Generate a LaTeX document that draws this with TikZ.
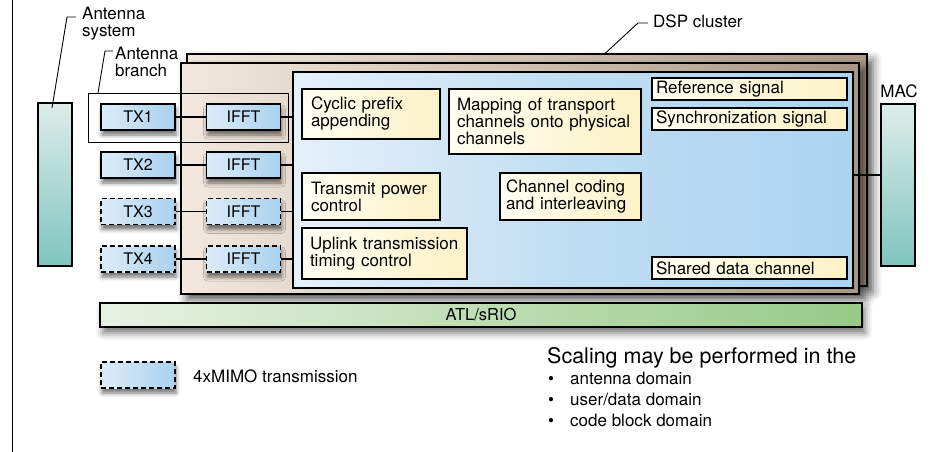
\documentclass[tikz,border=0pt]{standalone}
\usepackage{fontspec}
\setmainfont{TeX Gyre Heros}
\usetikzlibrary{shadows.blur,calc}
\definecolor{txL}{HTML}{DDECF8}
\definecolor{txR}{HTML}{A8D1EE}
\definecolor{yL}{HTML}{FFFEF2}
\definecolor{yR}{HTML}{FCF2C6}
\definecolor{pL}{HTML}{E5F1FB}
\definecolor{pM}{HTML}{BFDDF2}
\definecolor{pR}{HTML}{ABD4EF}
\definecolor{bL}{HTML}{F2E8DE}
\definecolor{bR}{HTML}{A99785}
\definecolor{tealT}{HTML}{DDEDE9}
\definecolor{tealB}{HTML}{7FC4BF}
\definecolor{gL}{HTML}{E7F2E2}
\definecolor{gR}{HTML}{97C988}
\tikzset{
  bx/.style={draw=black, line width=1.7pt, inner sep=0pt},
  sshadow/.style={blur shadow={shadow xshift=1pt, shadow yshift=-5pt, shadow blur radius=4pt, shadow opacity=55}},
  bigshadow/.style={blur shadow={shadow xshift=6pt, shadow yshift=-6pt, shadow blur radius=9pt, shadow opacity=60}},
  txbox/.style={bx, sshadow, left color=txL, right color=txR, minimum width=74pt, minimum height=26pt, font=\fontsize{16}{17}\selectfont},
  dbox/.style={txbox, dash pattern=on 5pt off 3pt},
  ybox/.style={draw=black, line width=1.3pt, left color=yL, right color=yR, align=left, inner ysep=0pt, inner xsep=8pt},
  layer/.style={draw=black, line width=1.8pt, inner sep=0pt, left color=bL, right color=bR},
  tealbox/.style={bx, top color=tealT, bottom color=tealB, minimum width=34pt},
  leader/.style={line width=0.9pt},
  conn/.style={line width=1.4pt},
  lbl/.style={inner sep=0pt, align=left}
}
\begin{document}
\begin{tikzpicture}[x=1pt,y=-1pt,font=\fontsize{17}{17}\selectfont]
\useasboundingbox (0,0) rectangle (930,452);
% left rule
\coordinate (rt) at (12,0);
\coordinate (rb) at (12,452);
\draw[line width=1pt] (rt) -- (rb);

% DSP cluster stack
\node[layer, bigshadow, minimum width=680pt, minimum height=232pt] (back) at (527,170) {};
\node[layer, bigshadow, minimum width=678pt, minimum height=231pt] (front) at (520,178.5) {};
\node[draw=black, line width=1.4pt, inner sep=0pt, minimum width=560pt, minimum height=216pt,
      left color=pL, right color=pR, middle color=pM] (panel) at (573,180) {};

% antenna branch frame
\node[draw=black, line width=0.9pt, inner sep=0pt, minimum width=200pt, minimum height=49pt] (branch) at (188,117.5) {};

% TX / IFFT
\node[txbox] (tx1) at (138,117) {TX1};
\node[txbox] (tx2) at (138,165) {TX2};
\node[dbox]  (tx3) at (138,211.5) {TX3};
\node[dbox]  (tx4) at (138,259) {TX4};
\node[txbox] (if1) at (243.5,117) {IFFT};
\node[txbox] (if2) at (243.5,165) {IFFT};
\node[dbox]  (if3) at (243.5,211.5) {IFFT};
\node[dbox]  (if4) at (243.5,259) {IFFT};
\foreach \i in {1,2,3,4}{
  \draw[conn] (tx\i) -- (if\i);
  \draw[conn] (if\i.east) -- (if\i.east -| panel.west);
}

% inner function boxes
\node[ybox, inner xsep=9pt, text width=120pt, minimum height=50pt] (cp) at (371,114) {Cyclic prefix\\appending};
\node[ybox, text width=176pt, minimum height=65pt] (map) at (545,121.5) {Mapping of transport\\channels onto physical\\channels};
\node[ybox, inner xsep=4pt, text width=187pt, minimum height=22pt] (ref) at (749.5,89) {Reference signal};
\node[ybox, inner xsep=4pt, text width=187pt, minimum height=22pt] (sync) at (749.5,119) {Synchronization signal};
\node[ybox, inner xsep=9pt, text width=120pt, minimum height=47pt] (tpc) at (371,196.5) {Transmit power\\control};
\node[ybox, inner xsep=6pt, text width=129pt, minimum height=47pt] (cc) at (570.5,196.5) {Channel coding\\and interleaving};
\node[ybox, inner xsep=8pt, text width=149pt, minimum height=51pt] (ul) at (384.5,253.5) {\mbox{Uplink transmission}\\timing control};
\node[ybox, inner xsep=4pt, text width=187pt, minimum height=22pt] (sdc) at (749.5,268) {Shared data channel};

% antenna system and MAC
\node[tealbox, minimum height=163pt] (ant) at (55,184.5) {};
\node[tealbox, minimum height=162pt] (mac) at (898,185) {};
\node[inner sep=0pt, anchor=base] (maclbl) at (899,98) {MAC};
\coordinate (macin) at (881,175);
\draw[conn] (panel.east |- macin) -- (macin);

% ATL/sRIO bar
\node[bx, line width=1.8pt, blur shadow={shadow xshift=3pt, shadow yshift=-6pt, shadow blur radius=7pt, shadow opacity=55},
      left color=gL, right color=gR, minimum width=762pt, minimum height=24pt,
      font=\fontsize{16.5}{17}\selectfont] (atl) at (481,315) {ATL/sRIO};

% labels with leaders
\node[lbl, anchor=north west] (antsys) at (82,7) {Antenna\\system};
\coordinate (as1) at (52,108);
\coordinate (as2) at (67,17);
\draw[leader] (as1) -- (as2) -- ++(9,0);
\node[lbl, anchor=north west] (antbr) at (115,47) {Antenna\\branch};
\coordinate (ab1) at (98,93);
\coordinate (ab2) at (105,51);
\draw[leader] (ab1) -- (ab2) -- ++(8,0);
\node[lbl, anchor=north west] (dsp) at (653,15) {DSP cluster};
\coordinate (ds1) at (605,53.5);
\coordinate (ds2) at (638,23);
\draw[leader] (ds1) -- (ds2) -- ++(10,0);

% legend
\node[dbox] (leg) at (138,375) {};
\node[inner sep=0pt, anchor=west] (legtxt) at (193,376) {4xMIMO transmission};

% scaling note
\node[inner sep=0pt, anchor=base west, font=\fontsize{21.5}{23}\selectfont] (scal) at (547,363) {Scaling may be performed in the};
\node[inner sep=0pt, anchor=base west] (s1) at (548,384) {\makebox[22pt][l]{\textbullet}antenna domain};
\node[inner sep=0pt, anchor=base west] (s2) at (548,405) {\makebox[22pt][l]{\textbullet}user/data domain};
\node[inner sep=0pt, anchor=base west] (s3) at (548,426) {\makebox[22pt][l]{\textbullet}code block domain};
\end{tikzpicture}
\end{document}
